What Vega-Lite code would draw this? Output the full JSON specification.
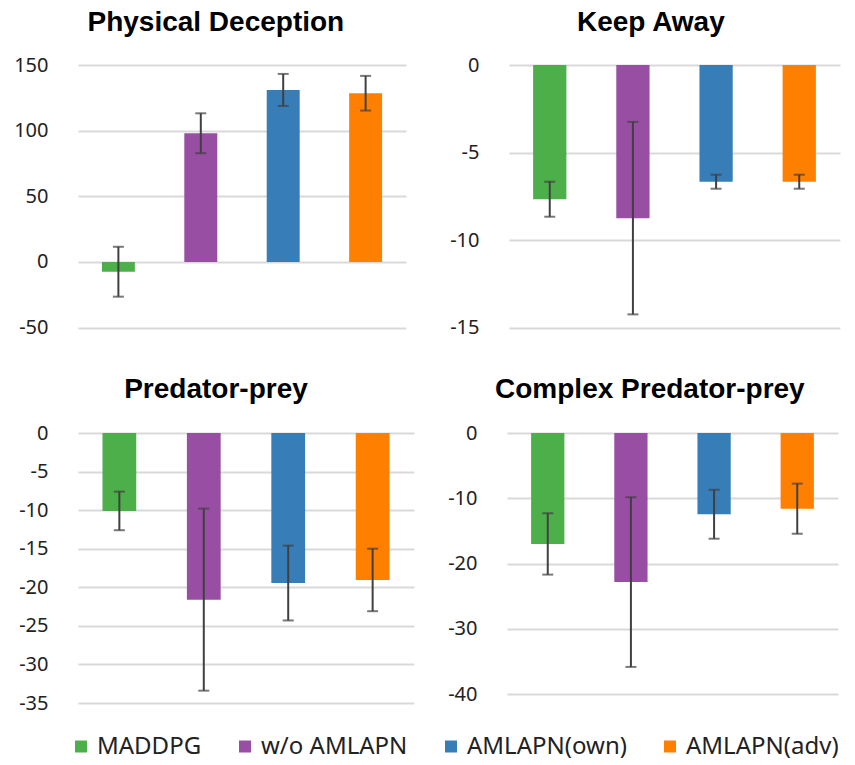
{
  "$schema": "https://vega.github.io/schema/vega-lite/v6.json",
  "padding": {"left": 10, "top": 9, "right": 8, "bottom": 5},
  "background": "white",
  "data": {"values": [
    {"panel": "PD", "method": "MADDPG", "mean": -7.5, "err": 19},
    {"panel": "PD", "method": "w/o AMLAPN", "mean": 98, "err": 15.2},
    {"panel": "PD", "method": "AMLAPN(own)", "mean": 131, "err": 12.2},
    {"panel": "PD", "method": "AMLAPN(adv)", "mean": 128.5, "err": 13.2},
    {"panel": "KA", "method": "MADDPG", "mean": -7.67, "err": 1.0},
    {"panel": "KA", "method": "w/o AMLAPN", "mean": -8.75, "err": 5.5},
    {"panel": "KA", "method": "AMLAPN(own)", "mean": -6.67, "err": 0.4},
    {"panel": "KA", "method": "AMLAPN(adv)", "mean": -6.67, "err": 0.4},
    {"panel": "PP", "method": "MADDPG", "mean": -10.1, "err": 2.5},
    {"panel": "PP", "method": "w/o AMLAPN", "mean": -21.6, "err": 11.8},
    {"panel": "PP", "method": "AMLAPN(own)", "mean": -19.45, "err": 4.85},
    {"panel": "PP", "method": "AMLAPN(adv)", "mean": -19.05, "err": 4.05},
    {"panel": "CPP", "method": "MADDPG", "mean": -17, "err": 4.7},
    {"panel": "CPP", "method": "w/o AMLAPN", "mean": -22.85, "err": 13},
    {"panel": "CPP", "method": "AMLAPN(own)", "mean": -12.45, "err": 3.75},
    {"panel": "CPP", "method": "AMLAPN(adv)", "mean": -11.6, "err": 3.84}
  ]},
  "config": {
    "view": {"stroke": null},
    "axis": {"grid": true, "gridColor": "#d9d9d9", "gridWidth": 2, "domain": false, "ticks": false, "labelFont": "Noto Sans", "labelFontSize": 20, "labelColor": "#222222", "labelPadding": 30, "labelOverlap": false, "labelExpr": "'' + datum.value"},
    "title": {"font": "Liberation Sans", "fontSize": 28, "fontWeight": "bold", "color": "#000000", "anchor": "middle", "frame": "bounds"}
  },
  "vconcat": [
    {
      "spacing": 43,
      "hconcat": [
        {
          "title": {"text": "Physical Deception", "offset": 18, "dx": 6},
          "width": 328, "height": 262.5,
          "transform": [{"filter": "datum.panel === 'PD'"}],
          "encoding": {
            "x": {"field": "method", "type": "nominal", "sort": ["MADDPG", "w/o AMLAPN", "AMLAPN(own)", "AMLAPN(adv)"], "axis": null, "scale": {"paddingInner": 0.6, "paddingOuter": 0.29}},
            "y": {"field": "mean", "type": "quantitative", "scale": {"domain": [-50, 150], "nice": false}, "axis": {"values": [-50, 0, 50, 100, 150], "title": null, "labelOverlap": false}}
          },
          "layer": [
            {"mark": "bar", "encoding": {
              "color": {"field": "method", "type": "nominal", "scale": {"domain": ["MADDPG", "w/o AMLAPN", "AMLAPN(own)", "AMLAPN(adv)"], "range": ["#4DAF4A", "#984EA3", "#377EB8", "#FF7F00"]},
                "legend": {"title": null, "orient": "none", "legendX": -9, "legendY": 669.5, "direction": "horizontal", "symbolType": "square", "symbolSize": 144, "symbolStrokeWidth": 0, "symbolOpacity": 1, "labelFont": "Noto Sans", "labelFontSize": 24, "labelColor": "#222222", "labelOffset": 4, "columnPadding": 31, "padding": 0, "labelLimit": 300}}
            }},
            {"mark": {"type": "errorbar", "color": "#404040", "thickness": 2, "ticks": {"size": 11, "color": "#404040", "thickness": 2}},
             "encoding": {"yError": {"field": "err"}}}
          ]
        },
        {
          "title": {"text": "Keep Away", "offset": 18, "dx": 6},
          "width": 331, "height": 262.5,
          "transform": [{"filter": "datum.panel === 'KA'"}],
          "encoding": {
            "x": {"field": "method", "type": "nominal", "sort": ["MADDPG", "w/o AMLAPN", "AMLAPN(own)", "AMLAPN(adv)"], "axis": null, "scale": {"paddingInner": 0.6, "paddingOuter": 0.29}},
            "y": {"field": "mean", "type": "quantitative", "scale": {"domain": [-15, 0], "nice": false}, "axis": {"values": [-15, -10, -5, 0], "title": null, "labelOverlap": false}}
          },
          "layer": [
            {"mark": "bar", "encoding": {
              "color": {"field": "method", "type": "nominal", "scale": {"domain": ["MADDPG", "w/o AMLAPN", "AMLAPN(own)", "AMLAPN(adv)"], "range": ["#4DAF4A", "#984EA3", "#377EB8", "#FF7F00"]},
                "legend": {"title": null, "orient": "none", "legendX": -9, "legendY": 669.5, "direction": "horizontal", "symbolType": "square", "symbolSize": 144, "symbolStrokeWidth": 0, "symbolOpacity": 1, "labelFont": "Noto Sans", "labelFontSize": 24, "labelColor": "#222222", "labelOffset": 4, "columnPadding": 31, "padding": 0, "labelLimit": 300}}
            }},
            {"mark": {"type": "errorbar", "color": "#404040", "thickness": 2, "ticks": {"size": 11, "color": "#404040", "thickness": 2}},
             "encoding": {"yError": {"field": "err"}}}
          ]
        }
      ]
    },
    {
      "spacing": 33,
      "hconcat": [
        {
          "title": {"text": "Predator-prey", "offset": 19, "dx": 4},
          "width": 336, "height": 270,
          "transform": [{"filter": "datum.panel === 'PP'"}],
          "encoding": {
            "x": {"field": "method", "type": "nominal", "sort": ["MADDPG", "w/o AMLAPN", "AMLAPN(own)", "AMLAPN(adv)"], "axis": null, "scale": {"paddingInner": 0.6, "paddingOuter": 0.29}},
            "y": {"field": "mean", "type": "quantitative", "scale": {"domain": [-35, 0], "nice": false}, "axis": {"values": [-35, -30, -25, -20, -15, -10, -5, 0], "title": null, "labelPadding": 30, "minExtent": 68, "labelOverlap": false, "labelSeparation": 0, "labelBound": false}}
          },
          "layer": [
            {"mark": "bar", "encoding": {
              "color": {"field": "method", "type": "nominal", "scale": {"domain": ["MADDPG", "w/o AMLAPN", "AMLAPN(own)", "AMLAPN(adv)"], "range": ["#4DAF4A", "#984EA3", "#377EB8", "#FF7F00"]},
                "legend": {"title": null, "orient": "none", "legendX": -9, "legendY": 669.5, "direction": "horizontal", "symbolType": "square", "symbolSize": 144, "symbolStrokeWidth": 0, "symbolOpacity": 1, "labelFont": "Noto Sans", "labelFontSize": 24, "labelColor": "#222222", "labelOffset": 4, "columnPadding": 31, "padding": 0, "labelLimit": 300}}
            }},
            {"mark": {"type": "errorbar", "color": "#404040", "thickness": 2, "ticks": {"size": 11, "color": "#404040", "thickness": 2}},
             "encoding": {"yError": {"field": "err"}}}
          ]
        },
        {
          "title": {"text": "Complex Predator-prey", "offset": 19, "dx": 7},
          "width": 331, "height": 261,
          "transform": [{"filter": "datum.panel === 'CPP'"}],
          "encoding": {
            "x": {"field": "method", "type": "nominal", "sort": ["MADDPG", "w/o AMLAPN", "AMLAPN(own)", "AMLAPN(adv)"], "axis": null, "scale": {"paddingInner": 0.6, "paddingOuter": 0.29}},
            "y": {"field": "mean", "type": "quantitative", "scale": {"domain": [-40, 0], "nice": false}, "axis": {"values": [-40, -30, -20, -10, 0], "title": null, "labelOverlap": false}}
          },
          "layer": [
            {"mark": "bar", "encoding": {
              "color": {"field": "method", "type": "nominal", "scale": {"domain": ["MADDPG", "w/o AMLAPN", "AMLAPN(own)", "AMLAPN(adv)"], "range": ["#4DAF4A", "#984EA3", "#377EB8", "#FF7F00"]},
                "legend": {"title": null, "orient": "none", "legendX": -9, "legendY": 669.5, "direction": "horizontal", "symbolType": "square", "symbolSize": 144, "symbolStrokeWidth": 0, "symbolOpacity": 1, "labelFont": "Noto Sans", "labelFontSize": 24, "labelColor": "#222222", "labelOffset": 4, "columnPadding": 31, "padding": 0, "labelLimit": 300}}
            }},
            {"mark": {"type": "errorbar", "color": "#404040", "thickness": 2, "ticks": {"size": 11, "color": "#404040", "thickness": 2}},
             "encoding": {"yError": {"field": "err"}}}
          ]
        }
      ]
    }
  ],
  "spacing": 38
}
